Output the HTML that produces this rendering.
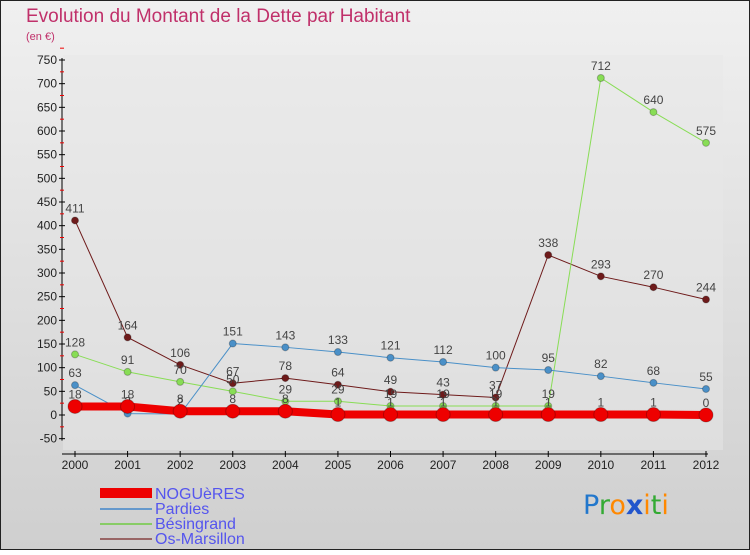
<!DOCTYPE html>
<html><head><meta charset="utf-8"><style>
html,body{margin:0;padding:0}
body{width:750px;height:550px;overflow:hidden;font-family:"Liberation Sans",sans-serif}
</style></head><body>
<svg id="chart" width="750" height="550" xmlns="http://www.w3.org/2000/svg">
<defs>
<linearGradient id="bg" x1="0" y1="0" x2="0" y2="1"><stop offset="0" stop-color="#f0f0f0"/><stop offset="1" stop-color="#cfcfcf"/></linearGradient>
</defs>
<rect x="0.5" y="0.5" width="749" height="549" fill="url(#bg)" stroke="#222"/>
<text x="26" y="22" font-size="19" fill="#c0306a">Evolution du Montant de la Dette par Habitant</text>
<text x="26" y="40" font-size="11" fill="#c0306a">(en €)</text>
<g id="axes"></g>
<g id="series"></g>
<g id="legend">
<rect x="100" y="488" width="52" height="10" fill="#ee0000"/>
<text x="155" y="499" font-size="16" fill="#5555ee">NOGUèRES</text>
<line x1="100" y1="509" x2="152" y2="509" stroke="#6699cc" stroke-width="2"/>
<text x="155" y="514" font-size="16" fill="#5555ee">Pardies</text>
<line x1="100" y1="524" x2="152" y2="524" stroke="#88cc66" stroke-width="2"/>
<text x="155" y="529" font-size="16" fill="#5555ee">Bésingrand</text>
<line x1="100" y1="539" x2="152" y2="539" stroke="#996666" stroke-width="2"/>
<text x="155" y="544" font-size="16" fill="#5555ee">Os-Marsillon</text>
</g>
<g font-size="27" font-family="DejaVu Sans,sans-serif">
<text x="583" y="514"><tspan fill="#2277cc">P</tspan><tspan fill="#33aa33">r</tspan><tspan fill="#ff8800">o</tspan><tspan fill="#2255cc" font-weight="bold">x</tspan><tspan fill="#ff8800">i</tspan><tspan fill="#33aa33">t</tspan><tspan fill="#ff8800">i</tspan></text>
</g>
</svg>
<script>
const years=[2000,2001,2002,2003,2004,2005,2006,2007,2008,2009,2010,2011,2012];
const nogueres=[18,18,8,8,8,1,1,1,1,1,1,1,0];
const pardies=[63,3,2,151,143,133,121,112,100,95,82,68,55];
const besingrand=[128,91,70,50,29,29,19,19,19,19,712,640,575];
const osMarsillon=[411,164,106,67,78,64,49,43,37,338,293,270,244];
const yTicks=[-50,0,50,100,150,200,250,300,350,400,450,500,550,600,650,700,750];
const NS="http://www.w3.org/2000/svg";
function X(i){return 75+i*(706-75)/(years.length-1);}
function Y(v){return 415-v*(355/750);}
function mk(tag,attrs,parent){const e=document.createElementNS(NS,tag);for(const k in attrs)e.setAttribute(k,attrs[k]);parent.appendChild(e);return e;}
const ax=document.getElementById('axes');
mk('rect',{x:63,y:55,width:660,height:395,fill:'#e8e8e8',opacity:0.5},ax);
const yl=mk('line',{x1:62,y1:Y(750)-2,x2:62,y2:Y(-50)+2,stroke:'#000'},ax);


const xl=mk('line',{x1:62,y1:454,x2:708,y2:454,stroke:'#000'},ax);


yTicks.forEach(t=>{
 mk('line',{x1:59,y1:Y(t),x2:65,y2:Y(t),stroke:'#000'},ax);
 mk('line',{x1:60,y1:Y(t+25),x2:64,y2:Y(t+25),stroke:'#e00'},ax);
 const tx=mk('text',{x:57,y:Y(t)+4,'font-size':12,fill:'#222','text-anchor':'end'},ax);
 tx.textContent=t;
 
 
});
years.forEach((y,i)=>{
 mk('line',{x1:X(i),y1:451,x2:X(i),y2:457,stroke:'#000'},ax);
 const tx=mk('text',{x:X(i),y:469,'font-size':12,fill:'#222','text-anchor':'middle'},ax);
 tx.textContent=y;
 
 
});
const sg=document.getElementById('series');
function draw(vals,color,w,r,name){
 const g=mk('g',{},sg);
 
 
 mk('polyline',{points:vals.map((v,i)=>X(i)+','+Y(v)).join(' '),fill:'none',stroke:color,'stroke-width':w},g);
 vals.forEach((v,i)=>{
  const c=mk('circle',{cx:X(i),cy:Y(v),r:r,fill:color,stroke:'rgba(0,0,0,0.25)'},g);
  
  
  const t=mk('text',{x:X(i),y:Y(v)-8,'font-size':12,fill:'#444','text-anchor':'middle'},g);
  t.textContent=v;
  
  
 });
}
draw(osMarsillon,'#6e1a1a',1,3.5,'os-marsillon');
draw(besingrand,'#88dd55',1,3.5,'besingrand');
draw(pardies,'#4a90c8',1,3.5,'pardies');
draw(nogueres,'#ee0000',8,7,'nogueres');
</script>
</body></html>
